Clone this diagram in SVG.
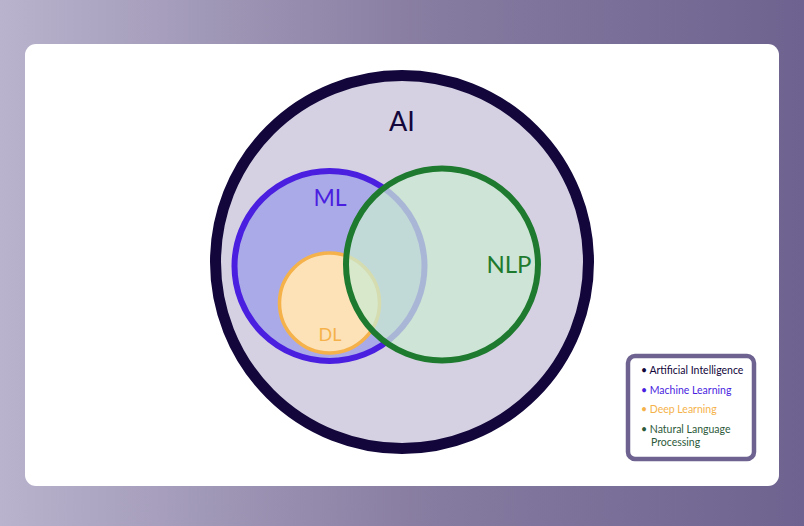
<svg xmlns="http://www.w3.org/2000/svg" width="804" height="526" viewBox="0 0 804 526">
<defs>
<linearGradient id="bg" x1="0" y1="0" x2="1" y2="0">
<stop offset="0" stop-color="#b9b3cd"/>
<stop offset="0.55" stop-color="#857a9f"/>
<stop offset="1" stop-color="#6e6390"/>
</linearGradient>
</defs>
<style>
.lbl{font-family:"Lato","Noto Sans",sans-serif;text-anchor:middle}
.leg{font-family:"Lato","Noto Sans",sans-serif;font-size:10.5px}
</style>
<rect x="0" y="0" width="804" height="526" fill="url(#bg)"/>
<rect x="25" y="44" width="754" height="442" rx="11" fill="#ffffff"/>
<g id="ai">
<circle cx="402" cy="262" r="186.5" fill="#d5d1e2" stroke="#12063a" stroke-width="11"/>
<text class="lbl" x="402" y="131" font-size="27" fill="#12063a">AI</text>
</g>
<g id="ml">
<circle cx="329.5" cy="266" r="95" fill="#aaaae8" stroke="#4a1fe0" stroke-width="6"/>
<text class="lbl" x="330" y="206" font-size="23" fill="#4a1fe0">ML</text>
</g>
<g id="dl">
<circle cx="329.5" cy="303" r="50" fill="#fde2b8" stroke="#f5b24a" stroke-width="3.5"/>
<text class="lbl" x="330" y="341" font-size="18" fill="#f5b24a">DL</text>
</g>
<g id="nlp">
<circle cx="442" cy="264.5" r="96" fill="#c9ead2" fill-opacity="0.75" stroke="#1e7a2e" stroke-width="6"/>
<text class="lbl" x="509" y="273" font-size="24" fill="#1e7a2e">NLP</text>
</g>
<g id="connectors"></g>
<g id="legend">
<rect x="628" y="356" width="126" height="103" rx="7" fill="#ffffff" stroke="#6e6390" stroke-width="4.5"/>
<text class="leg" x="641" y="374" fill="#12063a">• Artificial Intelligence</text>
<text class="leg" x="641" y="394" fill="#4a1fe0">• Machine Learning</text>
<text class="leg" x="641" y="413" fill="#f5b24a">• Deep Learning</text>
<text class="leg" x="641" y="433" fill="#2d5a3a">• Natural Language</text>
<text class="leg" x="651" y="446" fill="#2d5a3a">Processing</text>
</g>
</svg>
